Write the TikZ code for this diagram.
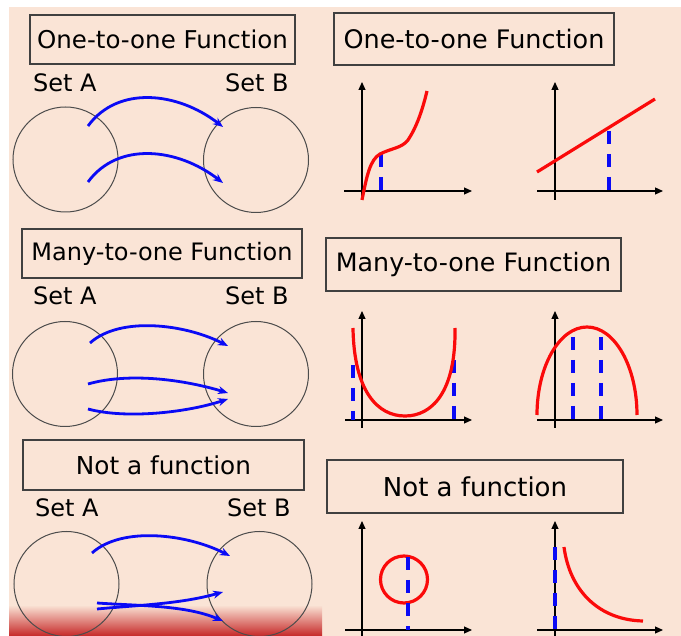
\documentclass[tikz,border=0pt]{standalone}
\usepackage{fontspec}
\setmainfont{DejaVu Sans}
\usetikzlibrary{arrows.meta}
\definecolor{peach}{HTML}{FAE4D6}
\definecolor{deepred}{RGB}{198,40,40}
\definecolor{fblue}{RGB}{10,10,245}
\definecolor{fred}{RGB}{250,10,10}
\tikzset{
 titlebox/.style={draw=black!75, line width=1.1pt, inner sep=0pt, align=center},
 setlabel/.style={anchor=base west, font=\fontsize{24}{28}\selectfont, inner sep=0pt},
 setcircle/.style={circle, draw=black!70, line width=1pt, minimum size=105pt, inner sep=0pt},
 maparrow/.style={draw=fblue, line width=2.8pt, -{Stealth[length=10pt,width=8pt]}},
 axisline/.style={draw=black, line width=1.2pt, -{Triangle[length=8pt,width=7pt]}},
 plainaxis/.style={draw=black, line width=1.2pt},
 graphcurve/.style={draw=fred, line width=3.2pt},
 vline/.style={draw=fblue, line width=3.2pt, dash pattern=on 13pt off 10pt},
}
\begin{document}
\begin{tikzpicture}[x=1pt,y=-1pt]
\useasboundingbox (0,0) rectangle (681,636);
\fill[white] (0,0) rectangle (681,636);
\fill[peach] (9,7) rectangle (681,636);
\shade[top color=peach, bottom color=deepred] (9,605) rectangle (322,636);

% ---------- titles ----------
\node[titlebox, minimum width=265pt, minimum height=49pt, font=\fontsize{24.5}{28}\selectfont] (t1) at (162.5,39.5) {One-to-one Function};
\node[titlebox, minimum width=280pt, minimum height=52pt, font=\fontsize{25.5}{28}\selectfont] (t2) at (474,39) {One-to-one Function};
\node[titlebox, minimum width=280pt, minimum height=49pt, font=\fontsize{24}{28}\selectfont] (t3) at (162,253.5) {Many-to-one Function};
\node[titlebox, minimum width=295pt, minimum height=53pt, font=\fontsize{25.3}{28}\selectfont] (t4) at (473.5,264.5) {Many-to-one Function};
\node[titlebox, minimum width=281pt, minimum height=50pt, font=\fontsize{24.7}{28}\selectfont] (t5) at (163.5,465) {Not a function};
\node[titlebox, minimum width=296pt, minimum height=53pt, font=\fontsize{26}{28}\selectfont] (t6) at (475,486.5) {Not a function};

% ---------- set labels ----------
\node[setlabel] (sa1) at (33,92) {Set A};
\node[setlabel] (sb1) at (225,92) {Set B};
\node[setlabel] (sa2) at (33,305) {Set A};
\node[setlabel] (sb2) at (225,305) {Set B};
\node[setlabel] (sa3) at (35,517) {Set A};
\node[setlabel] (sb3) at (227,517) {Set B};

% ---------- circles ----------
\node[setcircle] (A1) at (65.5,159.5) {};
\node[setcircle] (B1) at (256,160) {};
\node[setcircle] (A2) at (65,374) {};
\node[setcircle] (B2) at (256,374) {};
\node[setcircle] (A3) at (66.5,584) {};
\node[setcircle] (B3) at (259.5,584) {};

% ---------- mapping arrows ----------
\coordinate (p1s) at (88,126);  \coordinate (p1e) at (223,127);
\coordinate (p2s) at (88,182);  \coordinate (p2e) at (223,183);
\draw[maparrow] (p1s) .. controls +(30,-41) and +(-45,-35) .. (p1e);
\draw[maparrow] (p2s) .. controls +(30,-41) and +(-45,-35) .. (p2e);

\coordinate (q1s) at (90,343);  \coordinate (q1e) at (228,346);
\coordinate (q2s) at (88,384);  \coordinate (q2e) at (228,393);
\coordinate (q3s) at (88,409);  \coordinate (q3e) at (228,399);
\draw[maparrow] (q1s) .. controls +(30,-27) and +(-43,-22) .. (q1e);
\draw[maparrow] (q2s) .. controls +(42,-12) and +(-43,-13) .. (q2e);
\draw[maparrow] (q3s) .. controls +(37,10) and +(-43,14) .. (q3e);

\coordinate (r1s) at (92,553);  \coordinate (r1e) at (230,556);
\coordinate (r2s) at (97,603);  \coordinate (r2e) at (223,621);
\coordinate (r3s) at (97,609);  \coordinate (r3e) at (223,592);
\draw[maparrow] (r1s) .. controls +(30,-27) and +(-43,-22) .. (r1e);
\draw[maparrow] (r2s) .. controls +(43,3) and +(-38,-16) .. (r2e);
\draw[maparrow] (r3s) .. controls +(43,-4) and +(-43,12) .. (r3e);

% ---------- graph 1 (cubic) ----------
\draw[axisline] (362,200) -- (362,82);
\draw[axisline] (344,191) -- (472,191);
\draw[vline] (381,154) -- (381,191);
\draw[graphcurve] (362,200) .. controls (367,175) and (370,160) .. (380,154)
  .. controls (392,148) and (402,148) .. (408,140)
  .. controls (416,128) and (422,112) .. (427,91);

% ---------- graph 2 (line) ----------
\draw[axisline] (555,200) -- (555,82);
\draw[axisline] (537,191) -- (663,191);
\draw[vline] (609,131) -- (609,191);
\draw[graphcurve] (537,172) -- (655,99);

% ---------- graph 3 (U) ----------
\draw[axisline] (362,428) -- (362,311);
\draw[axisline] (345,420) -- (472,420);
\draw[vline] (353,365) -- (353,420);
\draw[vline] (454,360) -- (454,420);
\draw[graphcurve] (353,328) .. controls (354,392) and (378,416) .. (405,416)
  .. controls (432,416) and (456,392) .. (455,328);

% ---------- graph 4 (cap) ----------
\draw[axisline] (555,428) -- (555,311);
\draw[axisline] (537,420) -- (663,420);
\draw[vline] (573,337) -- (573,420);
\draw[vline] (601,337) -- (601,420);
\draw[graphcurve] (537,415) arc[start angle=180, end angle=360, x radius=50, y radius=88];

% ---------- graph 5 (circle) ----------
\draw[axisline] (362,640) -- (362,521);
\draw[axisline] (345,630) -- (472,630);
\draw[graphcurve] (404,579.5) circle[radius=23.5];
\draw[vline] (408,557) -- (408,630);

% ---------- graph 6 (hyperbola) ----------
\draw[axisline] (555,640) -- (555,521);
\draw[axisline] (537,630) -- (663,630);
\draw[vline] (555,547) -- (555,630);
\draw[graphcurve] (564,547) .. controls (570,592) and (600,620) .. (643,621);
\end{tikzpicture}
\end{document}
